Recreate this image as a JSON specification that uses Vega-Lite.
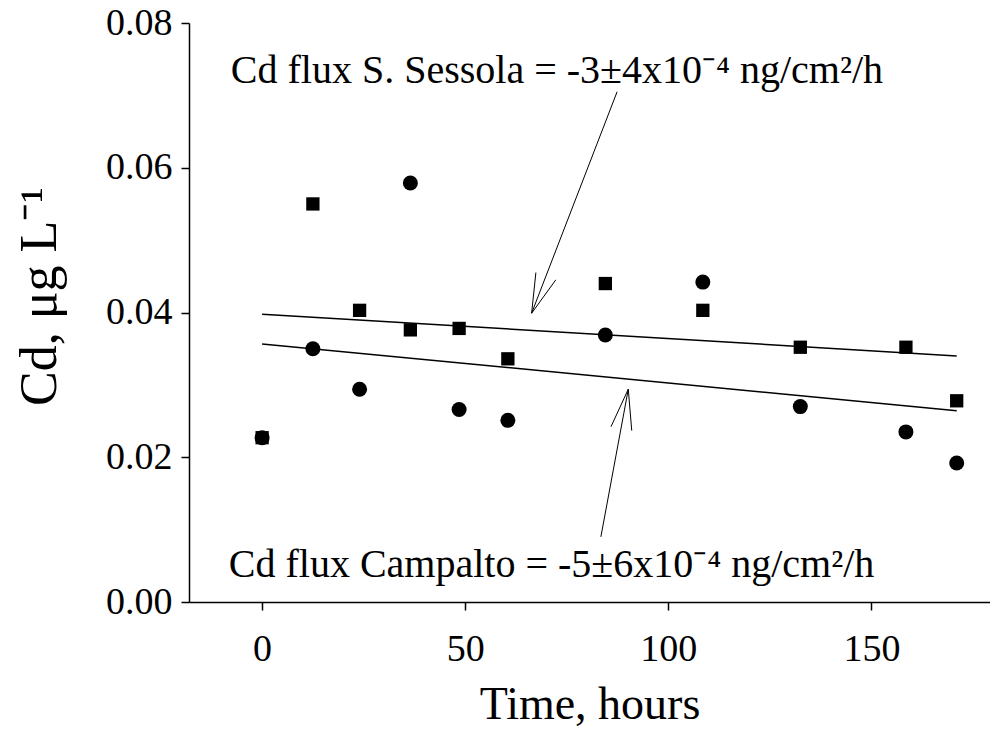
{
  "$schema": "https://vega.github.io/schema/vega-lite/v6.json",
  "width": 801,
  "height": 579,
  "autosize": {"type": "none"},
  "padding": {"left": 189, "top": 23, "right": 0, "bottom": 143},
  "background": "white",
  "config": {
    "view": {"stroke": null},
    "font": "Liberation Serif",
    "axis": {
      "grid": false,
      "domainColor": "black",
      "domainWidth": 1.5,
      "tickColor": "black",
      "tickWidth": 1.5,
      "tickSize": 8,
      "labelFont": "Liberation Serif",
      "labelFontSize": 38,
      "labelColor": "black",
      "titleFont": "Liberation Serif",
      "titleFontSize": 46,
      "titleFontWeight": "normal",
      "titleColor": "black"
    }
  },
  "datasets": {
    "sessola": [
      {"t": 0, "v": 0.0227},
      {"t": 12.5, "v": 0.0550},
      {"t": 24, "v": 0.0403},
      {"t": 36.5, "v": 0.0376},
      {"t": 48.5, "v": 0.0378},
      {"t": 60.5, "v": 0.0336},
      {"t": 84.5, "v": 0.0440},
      {"t": 108.5, "v": 0.0403},
      {"t": 132.5, "v": 0.0352},
      {"t": 158.5, "v": 0.0352},
      {"t": 171, "v": 0.0278}
    ],
    "campalto": [
      {"t": 0, "v": 0.0227},
      {"t": 12.5, "v": 0.0350},
      {"t": 24, "v": 0.0294},
      {"t": 36.5, "v": 0.0579},
      {"t": 48.5, "v": 0.0266},
      {"t": 60.5, "v": 0.0251},
      {"t": 84.5, "v": 0.0369},
      {"t": 108.5, "v": 0.0442},
      {"t": 132.5, "v": 0.0270},
      {"t": 158.5, "v": 0.0235},
      {"t": 171, "v": 0.0192}
    ],
    "fits": [
      {"series": "S. Sessola", "t": 0, "v": 0.03977},
      {"series": "S. Sessola", "t": 171, "v": 0.0340},
      {"series": "Campalto", "t": 0, "v": 0.03566},
      {"series": "Campalto", "t": 171, "v": 0.02644}
    ],
    "arrows": [
      {"t": 87.4, "v": 0.0705, "t2": 66.35, "v2": 0.0399},
      {"t": 66.35, "v": 0.0399, "t2": 67.4, "v2": 0.04552},
      {"t": 66.35, "v": 0.0399, "t2": 72.3, "v2": 0.04451},
      {"t": 83.4, "v": 0.009, "t2": 90.15, "v2": 0.0294},
      {"t": 90.15, "v": 0.0294, "t2": 85.9, "v2": 0.02423},
      {"t": 90.15, "v": 0.0294, "t2": 91.0, "v2": 0.02368}
    ],
    "notes": [
      {"t": -7.7, "v": 0.0717, "label": "Cd flux S. Sessola = -3±4x10⁻⁴ ng/cm²/h"},
      {"t": -8.2, "v": 0.00346, "label": "Cd flux Campalto = -5±6x10⁻⁴ ng/cm²/h"}
    ]
  },
  "encoding": {
    "x": {
      "field": "t",
      "type": "quantitative",
      "scale": {"domain": [-18, 179.2], "nice": false, "zero": false},
      "axis": {
        "values": [0, 50, 100, 150],
        "labelPadding": 20,
        "title": "Time, hours",
        "titleX": 400.5,
        "titleY": 116,
        "titleAlign": "center",
        "titleBaseline": "alphabetic"
      }
    },
    "y": {
      "field": "v",
      "type": "quantitative",
      "scale": {"domain": [0, 0.08], "nice": false, "zero": false},
      "axis": {
        "values": [0, 0.02, 0.04, 0.06, 0.08],
        "format": ".2f",
        "labelPadding": 9,
        "title": "Cd, μg L⁻¹",
        "titleX": -134,
        "titleY": 273,
        "titleAlign": "center",
        "titleBaseline": "alphabetic",
        "titleFontSize": 52
      }
    }
  },
  "layer": [
    {
      "data": {"name": "sessola"},
      "mark": {"type": "point", "shape": "square", "filled": true, "color": "black", "size": 177, "opacity": 1}
    },
    {
      "data": {"name": "campalto"},
      "mark": {"type": "point", "shape": "circle", "filled": true, "color": "black", "size": 225, "opacity": 1}
    },
    {
      "data": {"name": "fits"},
      "mark": {"type": "line", "color": "black", "strokeWidth": 1.5},
      "encoding": {"detail": {"field": "series"}}
    },
    {
      "data": {"name": "arrows"},
      "mark": {"type": "rule", "color": "black", "strokeWidth": 1},
      "encoding": {
        "x2": {"field": "t2"},
        "y2": {"field": "v2"}
      }
    },
    {
      "data": {"name": "notes"},
      "mark": {"type": "text", "align": "left", "baseline": "alphabetic", "font": "Liberation Serif", "fontSize": 40, "color": "black"},
      "encoding": {"text": {"field": "label"}}
    }
  ]
}
